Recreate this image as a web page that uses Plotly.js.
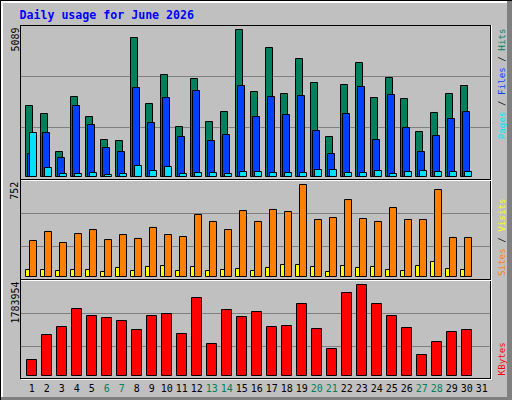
<!DOCTYPE html>
<html><head><meta charset="utf-8">
<script src="https://cdn.plot.ly/plotly-3.0.1.min.js"></script>
<style>html,body{margin:0;padding:0;background:#C0C0C0;}#chart{width:512px;height:400px;}</style>
</head><body><div id="chart"></div>
<script>
// ---- data ----
const days = [1,2,3,4,5,6,7,8,9,10,11,12,13,14,15,16,17,18,19,20,21,22,23,24,25,26,27,28,29,30];
const tickDays = [1,2,3,4,5,6,7,8,9,10,11,12,13,14,15,16,17,18,19,20,21,22,23,24,25,26,27,28,29,30,31];
const dayLabels = ['1','2','3','4','5','6','7','8','9','10','11','12','13','14','15','16','17','18','19','20','21','22','23','24','25','26','27','28','29','30','31'];
const weekendDays = [6,7,13,14,20,21,27,28];
const hits   = [2458,2181,865,2769,2077,1281,1246,4812,2527,3531,1731,3393,1904,2250,5089,2943,4466,2873,4085,3254,1385,3185,3947,2735,3427,2700,1558,2216,2873,3150];
const files  = [796,1523,658,2458,1800,1004,865,3081,1869,2735,1385,2977,1246,1454,3150,2077,2770,2146,2804,1592,796,2181,3116,1281,2839,1696,865,1419,2008,2250];
const pages  = [1523,312,104,104,138,69,104,381,208,346,104,138,138,104,173,173,138,138,138,242,242,138,138,208,104,173,208,173,173,173];
const sites  = [294,368,278,351,384,302,343,311,401,343,327,507,450,384,539,450,548,531,752,466,482,629,474,450,564,466,466,711,319,319];
const visits = [57,57,49,57,57,41,74,49,82,90,49,82,49,57,65,49,74,98,98,82,41,90,74,82,57,49,90,123,65,57];
const kbytes = [313663,803762,960594,1313463,1176233,1137025,1078213,901783,1176233,1215441,823366,1529103,627325,1293859,1156629,1254651,960594,980195,1411479,921387,529306,1627123,1783954,1411479,1176233,940991,411683,666533,862570,901783];
const titleText = 'Daily usage for June 2026';

// ---- colours ----
const C = {bg:'#C0C0C0', hits:'#00805C', files:'#0040FF', pages:'#00E0FF',
  sites:'#FF8000', visits:'#FFFF00', kbytes:'#FF0000', grid:'#808080', dark:'#808080'};

// ---- pixel helpers (paper == full 512x400 image) ----
const W = 512, H = 400;
const px = v => v / W, py = v => 1 - v / H;
const hl = (y, x0, x1, color, layer) => ({type:'line', xref:'paper', yref:'paper', x0:px(x0), x1:px(x1), y0:py(y), y1:py(y), line:{color, width:1}, layer:layer||'above'});
const vl = (x, y0, y1, color, layer) => ({type:'line', xref:'paper', yref:'paper', x0:px(x), x1:px(x), y0:py(y0), y1:py(y1), line:{color, width:1}, layer:layer||'above'});
const rect = (x0, y0, x1, y1, color) => ({type:'rect', xref:'paper', yref:'paper', x0:px(x0), x1:px(x1), y0:py(y1), y1:py(y0), fillcolor:color, line:{width:0}, layer:'above'});

// x: day d centred at 16.8 + 15 d px; domain 20..491 px
const slot = 15;
const xr = [(20 - 16.8) / slot, (491 - 16.8) / slot];
const barW = 7 / slot, kbW = 10 / slot;
const off0 = -6.3 / slot;

// y panels: [domain top px, domain bottom px, zero px, px height of max bar]
function yAxis(topPx, botPx, zeroPx, maxPx, maxVal) {
  const s = maxVal / maxPx;
  return {domain:[py(botPx), py(topPx)], range:[(zeroPx - botPx) * s, (zeroPx - topPx) * s],
    showgrid:false, zeroline:false, showticklabels:false, ticks:'', showline:false, fixedrange:true};
}
const maxHits = Math.max(...hits), maxSites = Math.max(...sites), maxKB = Math.max(...kbytes);

const line = {color:'#000000', width:1};
const common = {type:'bar', x:days, hoverinfo:'skip'};
const traces = [
  Object.assign({}, common, {y:hits,   xaxis:'x',  yaxis:'y',  offset:off0,            width:barW, marker:{color:C.hits, line}}),
  Object.assign({}, common, {y:files,  xaxis:'x',  yaxis:'y',  offset:off0 + 2/slot,   width:barW, marker:{color:C.files, line}}),
  Object.assign({}, common, {y:pages,  xaxis:'x',  yaxis:'y',  offset:off0 + 4/slot,   width:barW, marker:{color:C.pages, line}}),
  Object.assign({}, common, {y:visits, xaxis:'x2', yaxis:'y2', offset:off0,            width:barW, marker:{color:C.visits, line}}),
  Object.assign({}, common, {y:sites,  xaxis:'x2', yaxis:'y2', offset:off0 + 4/slot,   width:barW, marker:{color:C.sites, line}}),
  Object.assign({}, common, {y:kbytes, xaxis:'x3', yaxis:'y3', offset:off0 + 1/slot,   width:kbW,  marker:{color:C.kbytes, line}})
];

const xBase = {domain:[px(20), px(491)], range:xr, showgrid:false, zeroline:false, showline:false, ticks:'', fixedrange:true};
const tickText = dayLabels.map((t, i) => weekendDays.includes(tickDays[i]) ? '<span style="color:' + C.hits + '">' + t + '</span>' : t);

const monoFont = 'DejaVu Sans Mono, monospace';
const shapes = [
  // outer bevel
  hl(0.5, 0, 512, '#000000'), vl(0.5, 0, 400, '#000000'),
  rect(1, 1, 507, 3, '#FFFFFF'), rect(1, 1, 3, 397, '#FFFFFF'),
  rect(507, 1, 512, 400, C.dark), rect(1, 397, 512, 400, C.dark),
  // grid lines
  hl(76.5, 21, 490, C.grid, 'below'), hl(127.5, 21, 490, C.grid, 'below'),
  hl(213.5, 21, 490, C.grid, 'below'), hl(246.5, 21, 490, C.grid, 'below'),
  hl(313.5, 21, 490, C.grid, 'below'), hl(346.5, 21, 490, C.grid, 'below'),
  // frames
  hl(25.5, 20, 491, '#000000'), vl(20.5, 25, 379, '#000000'), vl(490.5, 25, 379, '#000000'), vl(491.5, 25, 380, '#FFFFFF'),
  hl(179.5, 20, 491, '#000000'), hl(180.5, 21, 491, '#FFFFFF'),
  hl(279.5, 20, 491, '#000000'), hl(280.5, 21, 491, '#FFFFFF'),
  hl(378.5, 20, 491, '#000000'), hl(379.5, 21, 492, '#FFFFFF')
];

const sp = (c, t) => '<span style="color:' + c + '">' + t + '</span>';
const ann = (x, y, text, size, color) => ({xref:'paper', yref:'paper', x:px(x), y:py(y), text, showarrow:false, textangle:-90,
  xanchor:'center', yanchor:'middle', font:{family:monoFont, size, color}});
const annotations = [
  ann(15, 39.5, String(maxHits), 10, '#000000'),
  ann(15, 190.7, String(maxSites), 10, '#000000'),
  ann(15, 302.5, String(maxKB), 10, '#000000'),
  ann(501.5, 83.7, sp(C.pages, 'Pages') + ' / ' + sp(C.files, 'Files') + ' / ' + sp(C.hits, 'Hits'), 9.2, '#000000'),
  ann(501.5, 237.5, sp(C.sites, 'Sites') + ' / ' + sp(C.visits, 'Visits'), 9.2, '#000000'),
  ann(501.5, 358.9, sp(C.kbytes, 'KBytes'), 9.2, '#000000')
];

const layout = {
  width:W, height:H, margin:{l:0, r:0, t:0, b:0, pad:0},
  paper_bgcolor:C.bg, plot_bgcolor:C.bg, showlegend:false, barmode:'overlay',
  title:{text:titleText, x:px(19.5), y:py(14.5), xanchor:'left', yanchor:'middle', xref:'paper', yref:'paper',
    font:{family:monoFont, size:11.6, weight:'bold', color:'#0000FF'}},
  xaxis:Object.assign({}, xBase, {anchor:'y', showticklabels:false}),
  xaxis2:Object.assign({}, xBase, {anchor:'y2', showticklabels:false}),
  xaxis3:Object.assign({}, xBase, {anchor:'y3', showticklabels:true, tickmode:'array', tickvals:tickDays, ticktext:tickText,
    tickangle:0, ticklabelstandoff:4, tickfont:{family:monoFont, size:10, color:'#000000'}}),
  yaxis: Object.assign(yAxis(26, 178, 176.5, 147, maxHits), {anchor:'x'}),
  yaxis2:Object.assign(yAxis(181, 278, 276.5, 92, maxSites), {anchor:'x2'}),
  yaxis3:Object.assign(yAxis(281, 377, 375.5, 91, maxKB), {anchor:'x3'}),
  shapes, annotations
};
Plotly.newPlot('chart', traces, layout, {staticPlot:true, displayModeBar:false});
</script></body></html>
